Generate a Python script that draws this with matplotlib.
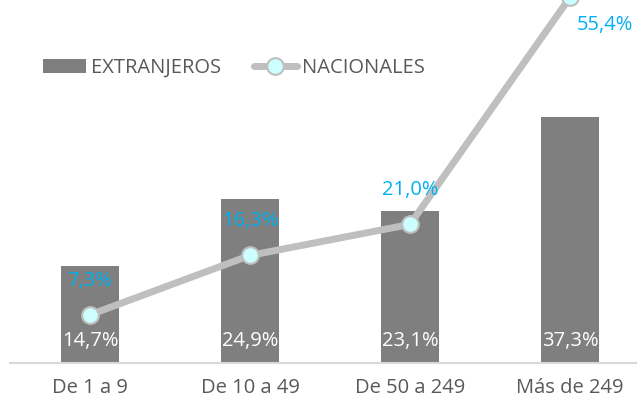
import matplotlib
matplotlib.use("Agg")
import matplotlib.pyplot as plt
import numpy as np

# data
categorias = ["De 1 a 9", "De 10 a 49", "De 50 a 249", "Más de 249"]
extranjeros = [14.7, 24.9, 23.1, 37.3]
nacionales = [7.3, 16.3, 21.0, 55.4]

def pct(v):
    return f"{v:.1f}%".replace(".", ",")

plt.rcParams['font.family'] = ['Open Sans', 'DejaVu Sans']
FS = 14.5

fig = plt.figure(figsize=(6.37, 4.07), dpi=100)
# axes runs a bit past the right edge, like the cropped original
ax = fig.add_axes([10 / 637, 44 / 407, 640 / 637, 363 / 407])

x = np.arange(len(categorias))
bars = ax.bar(x, extranjeros, width=0.3625, color='#7F7F7F', label='EXTRANJEROS', zorder=2)
line, = ax.plot(x, nacionales, color='#BFBFBF', lw=5, marker='o', ms=12,
                mfc='#CCFFFF', mec='#BFBFBF', mew=1.5, label='NACIONALES', zorder=3,
                solid_capstyle='round', clip_on=False)

ax.set_xlim(-0.5, 3.5)
ax.set_ylim(0, 55)

# labels of the bars: white, inside near the bottom
for xi, v in zip(x, extranjeros):
    ax.annotate(pct(v), (xi, 0), xytext=(0, 16), textcoords='offset points',
                ha='center', va='center', color='white', fontsize=FS, zorder=4)

# labels of the line
offsets = [(0, 24), (0, 25), (0, 25), (25, -20)]
for xi, v, off in zip(x, nacionales, offsets):
    ax.annotate(pct(v), (xi, v), xytext=off, textcoords='offset points',
                ha='center', va='center', color='#00B0F0', fontsize=FS, zorder=4,
                annotation_clip=False)

ax.set_xticks(x)
ax.set_xticklabels(categorias, fontsize=FS, color='#595959')
ax.tick_params(axis='x', length=0, pad=11)
ax.set_yticks([])
for s in ['top', 'right', 'left']:
    ax.spines[s].set_visible(False)
ax.spines['bottom'].set_color('#D9D9D9')
ax.spines['bottom'].set_linewidth(1.5)

leg = fig.legend(handles=[bars, line], loc='center left', bbox_to_anchor=(43 / 637, 1 - 68 / 407),
                 ncol=2, frameon=False, fontsize=FS, handlelength=2.15, handletextpad=0.25,
                 columnspacing=1.6, labelcolor='#595959', borderpad=0, borderaxespad=0)

fig.savefig("out.png", dpi=100)
